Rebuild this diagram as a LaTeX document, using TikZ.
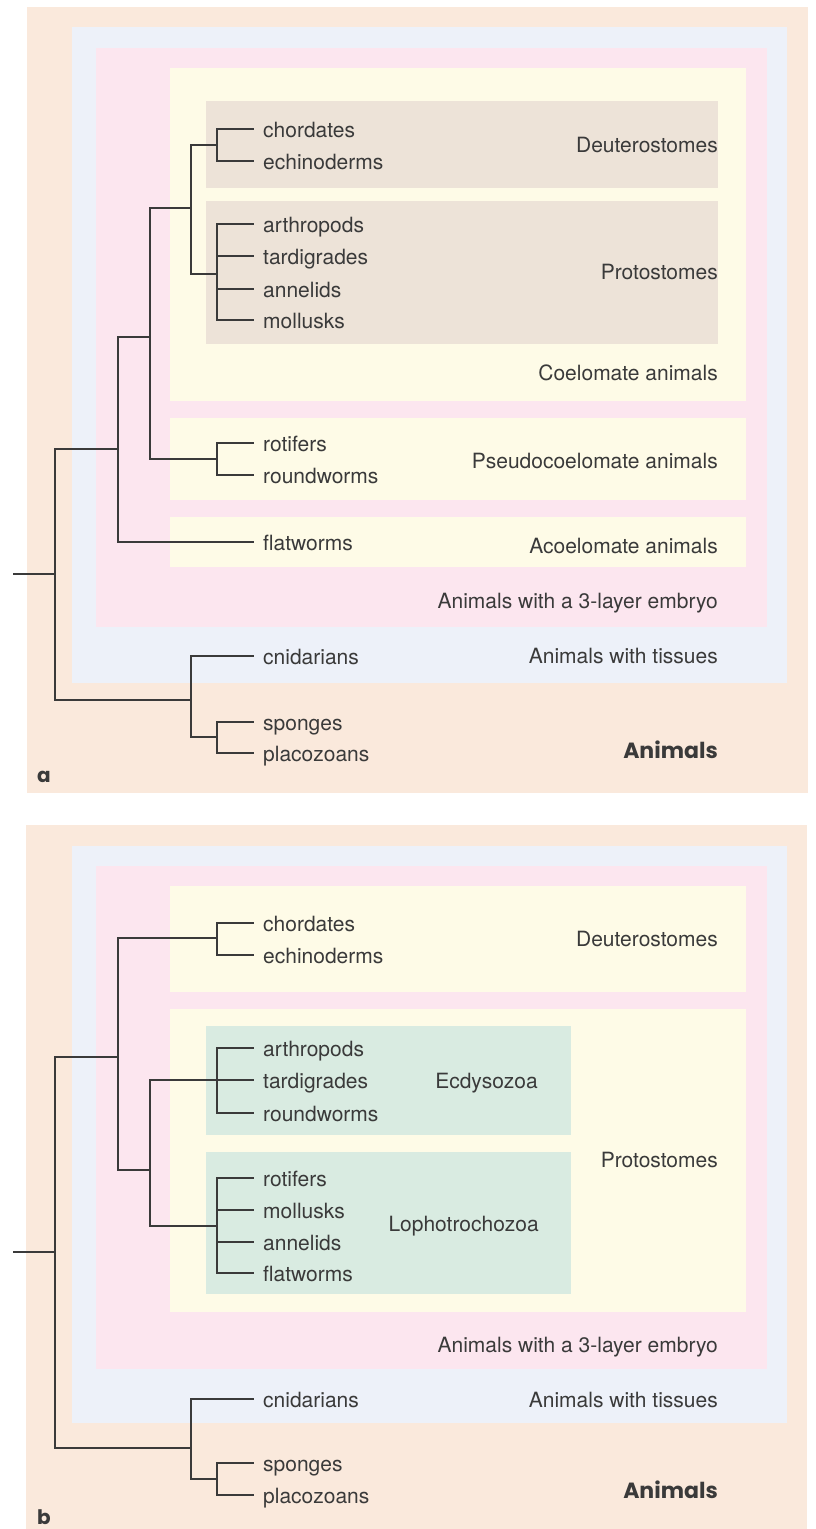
\documentclass[tikz,border=0pt]{standalone}
\usepackage{fontspec}
\setmainfont{TeX Gyre Heros}
\newfontfamily\headfont{Poppins}
\definecolor{ink}{HTML}{3A3A3A}
\definecolor{peach}{HTML}{FAE9DC}
\definecolor{tissue}{HTML}{EDF1F9}
\definecolor{embryo}{HTML}{FCE6EF}
\definecolor{cavity}{HTML}{FEFBE7}
\definecolor{mouth}{HTML}{EDE3D8}
\definecolor{clade}{HTML}{D9EBE1}
\begin{document}
\begin{tikzpicture}[x=1pt,y=-1pt,
  leaf/.style={anchor=west, inner xsep=9pt, inner ysep=0pt, text height=16pt,
    text depth=0pt, font=\fontsize{21}{25}\selectfont, text=ink},
  group/.style={anchor=east, inner sep=0pt, text height=16pt, text depth=0pt,
    font=\fontsize{21}{25}\selectfont, text=ink},
  kingdom/.style={anchor=base east, inner sep=0pt,
    font=\headfont\bfseries\fontsize{22}{26}\selectfont, text=ink},
  panel/.style={anchor=base west, inner sep=0pt,
    font=\headfont\bfseries\fontsize{20}{24}\selectfont, text=ink},
  branch/.style={draw=ink, line width=1.4pt}]
\useasboundingbox (0,0) rectangle (816,1529);

% ---------------- panel a: nested boxes ----------------
\fill[peach]  (27,7)    rectangle (808,793);
\fill[tissue] (72,27)   rectangle (787,683);
\fill[embryo] (96,48)   rectangle (767,627);
\fill[cavity] (170,68)  rectangle (746,401);
\fill[mouth]  (206,101) rectangle (718,188);
\fill[mouth]  (206,201) rectangle (718,344);
\fill[cavity] (170,418) rectangle (746,500);
\fill[cavity] (170,517) rectangle (746,567);

% group labels
\node[group] (aDeu) at (718,144) {Deuterostomes};
\node[group] (aPro) at (718,271) {Protostomes};
\node[group] (aCoe) at (718,372) {Coelomate animals};
\node[group] (aPse) at (718,460) {Pseudocoelomate animals};
\node[group] (aAco) at (718,545) {Acoelomate animals};
\node[group] (aEmb) at (718,600) {Animals with a 3-layer embryo};
\node[group] (aTis) at (718,655) {Animals with tissues};
\node[kingdom] (aAni) at (718,758) {Animals};
\node[panel] (aTag) at (37,782) {a};

% leaves
\node[leaf] (aChor) at (254,129) {chordates};
\node[leaf] (aEchi) at (254,161) {echinoderms};
\node[leaf] (aArth) at (254,224) {arthropods};
\node[leaf] (aTard) at (254,256) {tardigrades};
\node[leaf] (aAnne) at (254,289) {annelids};
\node[leaf] (aMoll) at (254,320) {mollusks};
\node[leaf] (aRoti) at (254,443) {rotifers};
\node[leaf] (aRoun) at (254,475) {roundworms};
\node[leaf] (aFlat) at (254,542) {flatworms};
\node[leaf] (aCnid) at (254,656) {cnidarians};
\node[leaf] (aSpon) at (254,722) {sponges};
\node[leaf] (aPlac) at (254,753) {placozoans};

% internal joints
\coordinate (aStem) at (13,574);
\coordinate (aRoot) at (55,574);
\coordinate (aBil)  at (118,449);
\coordinate (aCP)   at (150,337);
\coordinate (aCoJ)  at (191,208);
\coordinate (aDeJ)  at (217,145);
\coordinate (aPrJ)  at (217,274);
\coordinate (aPsJ)  at (217,459);
\coordinate (aCS)   at (191,700);
\coordinate (aSpJ)  at (217,737);

% branches
\draw[branch] (aStem) -- (aRoot);
\draw[branch] (aRoot) |- (aBil);
\draw[branch] (aRoot) |- (aCS);
\draw[branch] (aBil) |- (aCP);
\draw[branch] (aBil) |- (aFlat.west);
\draw[branch] (aCP) |- (aCoJ);
\draw[branch] (aCP) |- (aPsJ);
\draw[branch] (aCoJ) |- (aDeJ);
\draw[branch] (aCoJ) |- (aPrJ);
\draw[branch] (aDeJ) |- (aChor.west);
\draw[branch] (aDeJ) |- (aEchi.west);
\draw[branch] (aPrJ) |- (aArth.west);
\draw[branch] (aPrJ) |- (aTard.west);
\draw[branch] (aPrJ) |- (aAnne.west);
\draw[branch] (aPrJ) |- (aMoll.west);
\draw[branch] (aPsJ) |- (aRoti.west);
\draw[branch] (aPsJ) |- (aRoun.west);
\draw[branch] (aCS) |- (aCnid.west);
\draw[branch] (aCS) |- (aSpJ);
\draw[branch] (aSpJ) |- (aSpon.west);
\draw[branch] (aSpJ) |- (aPlac.west);

% ---------------- panel b: nested boxes ----------------
\fill[peach]  (26,825)   rectangle (807,1529);
\fill[tissue] (72,846)   rectangle (787,1423);
\fill[embryo] (96,866)   rectangle (767,1369);
\fill[cavity] (170,886)  rectangle (746,992);
\fill[cavity] (170,1009) rectangle (746,1312);
\fill[clade]  (206,1026) rectangle (571,1135);
\fill[clade]  (206,1152) rectangle (571,1294);

% group labels
\node[group] (bDeu) at (718,938)  {Deuterostomes};
\node[group] (bEcd) at (538,1080) {Ecdysozoa};
\node[group] (bPro) at (718,1159) {Protostomes};
\node[group] (bLop) at (539,1223) {Lophotrochozoa};
\node[group] (bEmb) at (718,1344) {Animals with a 3-layer embryo};
\node[group] (bTis) at (718,1399) {Animals with tissues};
\node[kingdom] (bAni) at (718,1498) {Animals};
\node[panel] (bTag) at (37,1524) {b};

% leaves
\node[leaf] (bChor) at (254,923)  {chordates};
\node[leaf] (bEchi) at (254,955)  {echinoderms};
\node[leaf] (bArth) at (254,1048) {arthropods};
\node[leaf] (bTard) at (254,1080) {tardigrades};
\node[leaf] (bRoun) at (254,1113) {roundworms};
\node[leaf] (bRoti) at (254,1178) {rotifers};
\node[leaf] (bMoll) at (254,1210) {mollusks};
\node[leaf] (bAnne) at (254,1242) {annelids};
\node[leaf] (bFlat) at (254,1273) {flatworms};
\node[leaf] (bCnid) at (254,1399) {cnidarians};
\node[leaf] (bSpon) at (254,1463) {sponges};
\node[leaf] (bPlac) at (254,1495) {placozoans};

% internal joints
\coordinate (bStem) at (13,1252);
\coordinate (bRoot) at (55,1252);
\coordinate (bBil)  at (118,1057);
\coordinate (bPrJ)  at (150,1170);
\coordinate (bDeJ)  at (217,938);
\coordinate (bEcJ)  at (217,1080);
\coordinate (bLoJ)  at (217,1226);
\coordinate (bCS)   at (191,1448);
\coordinate (bSpJ)  at (217,1479);

% branches
\draw[branch] (bStem) -- (bRoot);
\draw[branch] (bRoot) |- (bBil);
\draw[branch] (bRoot) |- (bCS);
\draw[branch] (bBil) |- (bDeJ);
\draw[branch] (bBil) |- (bPrJ);
\draw[branch] (bPrJ) |- (bEcJ);
\draw[branch] (bPrJ) |- (bLoJ);
\draw[branch] (bDeJ) |- (bChor.west);
\draw[branch] (bDeJ) |- (bEchi.west);
\draw[branch] (bEcJ) |- (bArth.west);
\draw[branch] (bEcJ) |- (bTard.west);
\draw[branch] (bEcJ) |- (bRoun.west);
\draw[branch] (bLoJ) |- (bRoti.west);
\draw[branch] (bLoJ) |- (bMoll.west);
\draw[branch] (bLoJ) |- (bAnne.west);
\draw[branch] (bLoJ) |- (bFlat.west);
\draw[branch] (bCS) |- (bCnid.west);
\draw[branch] (bCS) |- (bSpJ);
\draw[branch] (bSpJ) |- (bSpon.west);
\draw[branch] (bSpJ) |- (bPlac.west);
\end{tikzpicture}
\end{document}
